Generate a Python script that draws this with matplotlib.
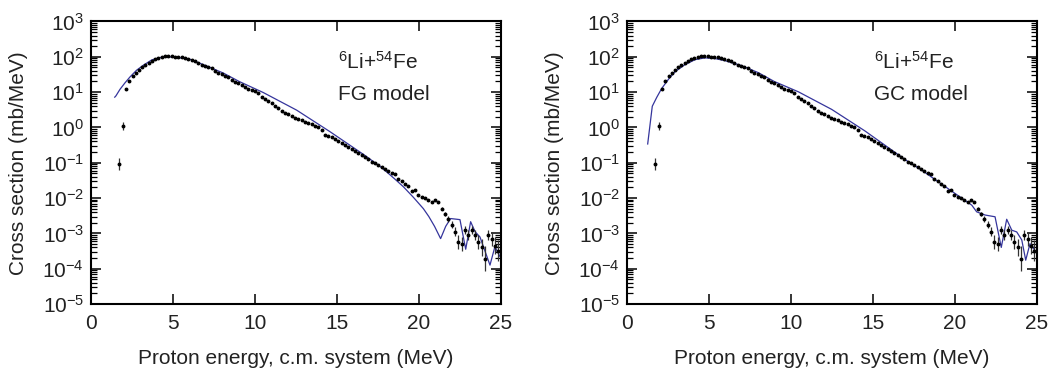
import numpy as np
import matplotlib
matplotlib.use("Agg")
import matplotlib.pyplot as plt
from matplotlib.ticker import LogLocator, NullFormatter, FixedLocator

plt.rcParams["font.family"] = ["Liberation Sans", "DejaVu Sans"]
plt.rcParams["mathtext.fontset"] = "custom"
plt.rcParams["mathtext.rm"] = "Liberation Sans"
plt.rcParams["mathtext.it"] = "Liberation Sans:italic"
plt.rcParams["mathtext.bf"] = "Liberation Sans:bold"

# Experimental proton spectrum (MeV, mb/MeV), relative error in decades
exp_e = [1.73, 1.93, 2.13, 2.34, 2.54, 2.73, 2.91, 3.11, 3.31, 3.52, 3.70, 3.90,
         4.10, 4.31, 4.51, 4.71, 4.92, 5.12, 5.32, 5.53, 5.73, 5.93, 6.14, 6.34,
         6.54, 6.75, 6.95, 7.15, 7.36, 7.56, 7.76, 7.97, 8.17, 8.37, 8.58, 8.78,
         8.98, 9.19, 9.39, 9.59, 9.80, 10.00, 10.20, 10.41, 10.61, 10.81, 11.02,
         11.22, 11.42, 11.63, 11.83, 12.03, 12.24, 12.44, 12.64, 12.85, 13.05,
         13.25, 13.46, 13.66, 13.86, 14.07, 14.27, 14.47, 14.68, 14.88, 15.08,
         15.29, 15.49, 15.69, 15.90, 16.10, 16.30, 16.51, 16.71, 16.91, 17.12,
         17.32, 17.52, 17.73, 17.93, 18.13, 18.34, 18.54, 18.74, 18.95, 19.15,
         19.35, 19.55, 19.76, 19.96, 20.16, 20.37, 20.57, 20.77, 20.98, 21.18,
         21.38, 21.59, 21.79, 21.99, 22.20, 22.40, 22.60, 22.81, 23.01, 23.21,
         23.42, 23.62, 23.82, 24.03, 24.23, 24.43, 24.64, 24.84]
exp_y = [0.095, 1.1, 12.6, 20.9, 28.2, 35.5, 41.7, 51.3, 58.9, 67.6, 74.1, 85.1,
         91.2, 100, 107, 107, 105, 102, 100, 97.7, 93.3, 89.1, 81.3, 75.9,
         67.6, 60.3, 55.0, 50.1, 46.8, 40.7, 35.5, 33.1, 29.5, 26.3, 22.4, 19.5,
         17.8, 15.8, 14.1, 12.3, 11.5, 10.7, 9.55, 7.41, 6.46, 5.50, 4.90,
         4.17, 3.47, 2.95, 2.63, 2.40, 2.14, 1.91, 1.74, 1.58, 1.45,
         1.35, 1.23, 1.12, 1.0, 0.83, 0.63, 0.56, 0.525, 0.468, 0.407,
         0.355, 0.316, 0.275, 0.24, 0.214, 0.186, 0.162, 0.148, 0.126, 0.107,
         0.0955, 0.0851, 0.0776, 0.0676, 0.0603, 0.0525, 0.0468, 0.0355, 0.0302, 0.0257,
         0.0224, 0.0158, 0.0166, 0.0120, 0.0107, 0.0098, 0.0091, 0.0079, 0.0087, 0.0078,
         0.0050, 0.00355, 0.00251, 0.00178, 0.00112, 0.00056, 0.0005, 0.00126, 0.00089, 0.00126,
         0.00089, 0.00056, 0.0004, 0.00019, 0.00089, 0.0007, 0.00045, 0.00032]
exp_dlog = [0.17, 0.10] + [0.0] * 95 + [0.05, 0.06, 0.08, 0.10, 0.12, 0.20, 0.20, 0.12,
                                        0.15, 0.12, 0.15, 0.20, 0.25, 0.35, 0.15, 0.20,
                                        0.25, 0.30]

# Fermi-gas model
fg_e = [1.45, 1.52, 1.77, 2.07, 2.38, 2.78, 3.19, 3.70, 4.21, 4.72, 5.43, 6.04,
        7.05, 8.07, 9.04, 10.50, 12.54, 14.57, 16.60, 17.62, 18.03, 18.50, 19.05,
        19.66, 20.27, 20.60, 20.95, 21.32, 21.63, 21.93, 22.50, 22.85, 23.15,
        23.42, 23.72, 23.93, 24.33, 24.63, 24.94]
fg_y = [7.2, 7.8, 12.0, 18.2, 26.9, 41.7, 57.5, 81.3, 95.5, 100, 93.3, 85.1,
        55.0, 34.7, 20.0, 9.77, 3.09, 0.76, 0.174, 0.0794, 0.055, 0.0355, 0.0209,
        0.0105, 0.005, 0.003, 0.00158, 0.00071, 0.00158, 0.00263, 0.00245, 0.000355, 0.00214,
        0.00112, 0.00079, 0.00042, 0.000126, 0.00042, 0.00022]

# Gilbert-Cameron model
gc_e = [1.26, 1.54, 1.81, 2.11, 2.52, 2.93, 3.54, 4.15, 4.76, 5.37, 5.98, 6.99,
        8.01, 8.98, 10.45, 12.48, 14.51, 16.95, 17.97, 18.98, 20.00, 21.02, 21.32,
        21.83, 22.44, 22.82, 23.15, 23.46, 23.76, 24.07, 24.31, 24.57, 24.87]
gc_y = [0.34, 3.98, 7.08, 12.6, 22.9, 38.0, 60.3, 83.2, 93.3, 89.1, 77.6, 56.2,
        35.5, 20.0, 10.2, 3.24, 0.794, 0.123, 0.0617, 0.0288, 0.0135, 0.0063, 0.00407,
        0.00331, 0.00295, 0.0004, 0.00251, 0.00123, 0.0011, 0.00065, 0.000174, 0.00051, 0.00033]

panels = [("FG model", fg_e, fg_y), ("GC model", gc_e, gc_y)]
line_color = "#35359c"
fs = 15

fig = plt.figure(figsize=(10.54, 3.70), dpi=100)
lefts = [0.0863, 0.5949]

ey = np.array(exp_y)
ed = np.array(exp_dlog)
yerr = [ey * (1 - 10 ** (-ed)), ey * (10 ** ed - 1)]

for left, (label, te, ty) in zip(lefts, panels):
    ax = fig.add_axes([left, 0.1784, 0.389, 0.7635])
    ax.plot(te, ty, color=line_color, lw=0.9, zorder=2)
    ax.errorbar(exp_e, exp_y, yerr=yerr, fmt="o", ms=1.8, color="black",
                ecolor="#333333", elinewidth=0.9, capsize=0, zorder=3)
    ax.set_yscale("log")
    ax.set_xlim(0, 25)
    ax.set_ylim(1e-5, 1e3)
    ax.xaxis.set_major_locator(FixedLocator([0, 5, 10, 15, 20, 25]))
    ax.yaxis.set_major_locator(LogLocator(base=10, numticks=20))
    ax.yaxis.set_minor_locator(LogLocator(base=10, subs=np.arange(2, 10), numticks=20))
    ax.yaxis.set_minor_formatter(NullFormatter())
    ax.tick_params(which="both", direction="in", top=True, right=True, labelsize=fs,
                   labelcolor="#222222")
    ax.tick_params(which="major", length=7, width=1.1)
    ax.tick_params(which="minor", length=4, width=0.9)
    ax.tick_params(axis="x", pad=7)
    ax.tick_params(axis="y", pad=5)
    for sp in ax.spines.values():
        sp.set_linewidth(1.5)
    ax.set_xlabel("Proton energy, c.m. system (MeV)", fontsize=fs, labelpad=12,
                  color="#222222")
    ax.set_ylabel("Cross section (mb/MeV)", fontsize=fs, labelpad=10, color="#222222")
    ax.text(15.05, 72, r"$^{6}$Li+$^{54}$Fe", fontsize=fs, ha="left", va="center",
            color="#222222")
    ax.text(15.05, 8.6, label, fontsize=fs, ha="left", va="center", color="#222222")

fig.savefig("out.png", dpi=100)
